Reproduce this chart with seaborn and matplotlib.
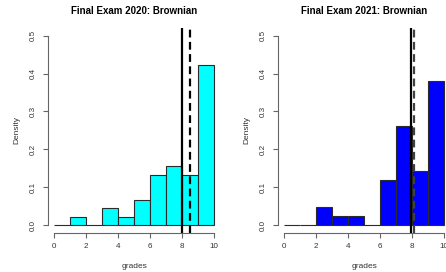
import numpy as np
import pandas as pd
import matplotlib
matplotlib.use("Agg")
import matplotlib.pyplot as plt
import seaborn as sns

# ---- data ----
bin_edges = [0, 1, 2, 3, 4, 5, 6, 7, 8, 9, 10]
density_2020 = [0.0, 0.0222, 0.0, 0.0444, 0.0222, 0.0667, 0.1333, 0.1556, 0.1333, 0.4222]
density_2021 = [0.0, 0.0, 0.0476, 0.0238, 0.0238, 0.0, 0.1190, 0.2619, 0.1429, 0.3810]
mean_2020, median_2020 = 8.03, 8.5
mean_2021, median_2021 = 7.94, 8.13
titles = ["Final Exam 2020: Brownian", "Final Exam 2021: Brownian"]
x_ticks = [0, 2, 4, 6, 8, 10]
y_ticks = [0.0, 0.1, 0.2, 0.3, 0.4, 0.5]

sns.set_style("white")
plt.rcParams["font.family"] = ["Liberation Sans", "DejaVu Sans"]

fig = plt.figure(figsize=(4.46, 2.72), dpi=100)
W, H = 446.0, 272.0

panels = [
    dict(left_px=47.6, dens=density_2020, color="#00FFFF", mean=mean_2020, med=median_2020,
         medcol="black", title=titles[0]),
    dict(left_px=277.6, dens=density_2021, color="#0000FF", mean=mean_2021, med=median_2021,
         medcol="#404040", title=titles[1]),
]
axis_col = "#666666"
text_col = "#333333"
for p in panels:
    ax = fig.add_axes([p["left_px"] / W, (272 - 232.6) / H, 172.8 / W, 204.5 / H])
    mids = (np.array(bin_edges[:-1]) + np.array(bin_edges[1:])) / 2
    df = pd.DataFrame({"grades": mids, "w": p["dens"]})
    sns.histplot(data=df, x="grades", weights="w", bins=bin_edges, stat="count",
                 color=p["color"], alpha=1, edgecolor="#2b2b2b", linewidth=0.8, ax=ax)
    ax.axvline(p["mean"], color="black", lw=1.6, ymin=0, ymax=1)
    ax.axvline(p["med"], color=p["medcol"], lw=1.6, ls=(0, (3.5, 2)), ymin=0, ymax=1)
    ax.set_xlim(-0.4, 10.4)
    ax.set_ylim(-0.02, 0.52)
    ax.set_xticks(x_ticks)
    ax.set_yticks(y_ticks)
    ax.set_xticklabels([str(t) for t in x_ticks])
    ax.set_yticklabels([f"{t:.1f}" for t in y_ticks], rotation=90, va="center")
    for s in ["top", "right"]:
        ax.spines[s].set_visible(False)
    ax.spines["left"].set_bounds(0, 0.5)
    ax.spines["bottom"].set_bounds(0, 10)
    for s in ["left", "bottom"]:
        ax.spines[s].set_color(axis_col)
        ax.spines[s].set_linewidth(0.8)
    ax.tick_params(axis="both", which="both", length=3.6, width=0.8, color=axis_col,
                   labelsize=5.8, labelcolor=text_col, pad=4, left=True, bottom=True)
    ax.set_xlabel("grades", fontsize=6, color=text_col, labelpad=9)
    ax.set_ylabel("Density", fontsize=6, color=text_col, labelpad=7)
    ax.set_title(p["title"], fontsize=7, fontweight="bold", color="black", pad=10)
    ax.patch.set_alpha(0)

fig.savefig("out.png", dpi=100)
